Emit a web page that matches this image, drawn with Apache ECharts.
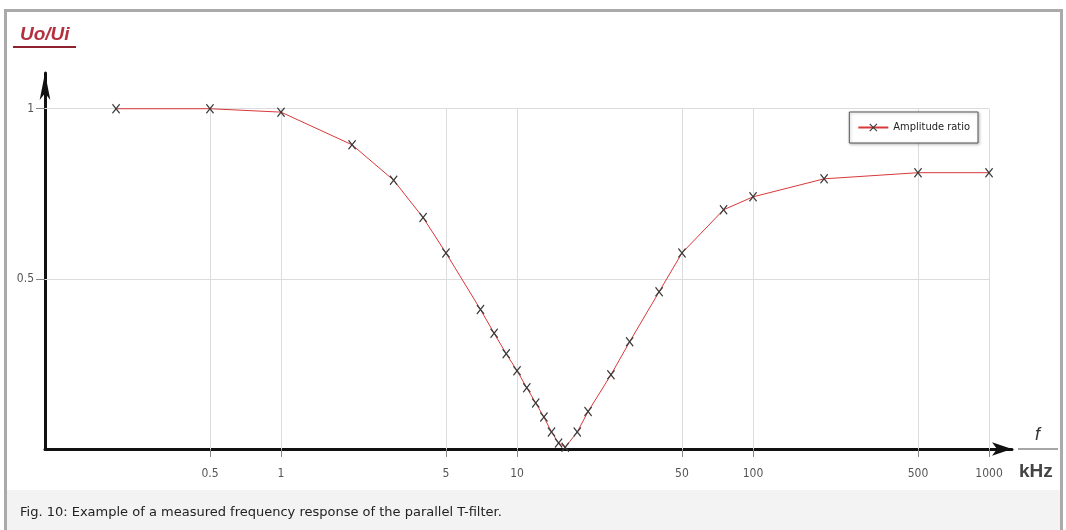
<!DOCTYPE html>
<html>
<head>
<meta charset="utf-8">
<script src="https://cdn.jsdelivr.net/npm/echarts@6/dist/echarts.min.js"></script>
<style>
  html, body { margin: 0; padding: 0; background: #fff; }
  #chartmain { width: 1066px; height: 530px; }
</style>
</head>
<body>
<div id="chartmain"></div>
<script>
// measured points: frequency in kHz, amplitude ratio Uo/Ui
var freq = [0.2, 0.5, 1, 2, 3, 4, 5, 7, 8, 9, 10, 11, 12, 13, 14, 15, 16, 18, 20, 25, 30, 40, 50, 75, 100, 200, 500, 1000];
var ratio = [1.0, 1.0, 0.99, 0.894, 0.79, 0.68, 0.576, 0.41, 0.34, 0.28, 0.23, 0.18, 0.135, 0.094, 0.05, 0.018, 0.005, 0.05, 0.11, 0.218, 0.315, 0.462, 0.576, 0.703, 0.741, 0.794, 0.812, 0.812];

// tick labels
var xTicks = [0.5, 1, 5, 10, 50, 100, 500, 1000];
var yTicks = [0.5, 1];

var seriesName = 'Amplitude ratio';
var narrowFont = "'Liberation Sans Narrow', 'DejaVu Sans Condensed', 'Roboto', sans-serif";

function makePoints() {
    var pts = [];
    for (var i = 0; i < freq.length; i++) {
        pts.push([freq[i], ratio[i]]);
    }
    return pts;
}

// grid lines only inside the 0..1 / 0.1..1000 box
function makeGridLines() {
    var lines = [];
    xTicks.forEach(function (v) {
        lines.push([{ coord: [v, 0] }, { coord: [v, 1] }]);
    });
    yTicks.forEach(function (v) {
        lines.push([{ coord: [0.1, v] }, { coord: [1000, v] }]);
    });
    return lines;
}

var xMark = 'path://M0,1L1,0L5,4L9,0L10,1L6,5L10,9L9,10L5,6L1,10L0,9L4,5Z';

var option = {
    animation: false,
    backgroundColor: '#fff',
    title: {
        text: 'Uo/Ui',
        left: 20,
        top: 25,
        padding: 0,
        textStyle: {
            fontFamily: 'Liberation Sans',
            fontStyle: 'italic',
            fontWeight: 'bold',
            fontSize: 19,
            color: '#b3303e'
        }
    },
    legend: {
        data: [seriesName],
        right: 88,
        top: 112,
        padding: [10, 8, 10, 8],
        itemWidth: 30,
        itemHeight: 10,
        itemGap: 5,
        borderColor: '#555',
        borderWidth: 1,
        backgroundColor: '#fff',
        shadowColor: 'rgba(0,0,0,0.25)',
        shadowBlur: 3,
        shadowOffsetX: 1,
        shadowOffsetY: 1,
        textStyle: { fontFamily: narrowFont, fontSize: 11, color: '#222' }
    },
    grid: {
        left: 45,
        right: 54,
        top: 73,
        bottom: 81,
        containLabel: false
    },
    xAxis: {
        type: 'log',
        logBase: 10,
        min: 0.1,
        max: 1251,
        axisLine: {
            show: true,
            lineStyle: { color: '#111', width: 3 },
            symbol: ['none', 'arrow'],
            symbolSize: [10, 20]
        },
        axisTick: {
            show: true,
            customValues: xTicks,
            length: 8,
            lineStyle: { color: '#888', width: 1 }
        },
        axisLabel: {
            customValues: xTicks,
            margin: 19,
            fontFamily: narrowFont,
            fontSize: 12,
            color: '#555',
            formatter: function (v) { return String(v); }
        },
        splitLine: { show: false },
        minorTick: { show: false },
        minorSplitLine: { show: false }
    },
    yAxis: {
        type: 'value',
        min: 0,
        max: 1.105,
        axisLine: {
            show: true,
            lineStyle: { color: '#111', width: 3 },
            symbol: ['none', 'arrow'],
            symbolSize: [8, 27]
        },
        axisTick: {
            show: true,
            customValues: yTicks,
            length: 9,
            lineStyle: { color: '#888', width: 1 }
        },
        axisLabel: {
            customValues: yTicks,
            margin: 11,
            fontFamily: narrowFont,
            fontSize: 12,
            color: '#555',
            formatter: function (v) { return String(v); }
        },
        splitLine: { show: false }
    },
    series: [{
        name: seriesName,
        type: 'line',
        data: makePoints(),
        symbol: xMark,
        symbolSize: [8, 10],
        showAllSymbol: true,
        itemStyle: { color: '#3a3a3a' },
        lineStyle: { color: '#d9383a', width: 1 },
        z: 3,
        markLine: {
            silent: true,
            symbol: ['none', 'none'],
            label: { show: false },
            lineStyle: { color: '#dcdcdc', type: 'solid', width: 1 },
            data: makeGridLines(),
            z: 1
        }
    }],
    graphic: [
        // caption band
        { type: 'rect', left: 7, top: 490, shape: { width: 1054, height: 40 }, style: { fill: '#f3f3f3' }, z: -10, silent: true },
        { type: 'text', left: 20, top: 506, style: { text: 'Fig. 10: Example of a measured frequency response of the parallel T-filter.', font: '13px "DejaVu Sans"', fill: '#222' } },
        // frame
        { type: 'polyline', shape: { points: [[5.5, 530], [5.5, 10.5], [1061.5, 10.5], [1061.5, 530]] }, style: { stroke: '#aaa', lineWidth: 3, fill: null }, silent: true },
        // underline of the title
        { type: 'line', shape: { x1: 13, y1: 47, x2: 76, y2: 47 }, style: { stroke: '#8e2231', lineWidth: 2 } },
        // axis unit
        { type: 'text', left: 1035, top: 426, style: { text: 'f', font: 'italic 18px "Liberation Sans"', fill: '#333' } },
        { type: 'line', shape: { x1: 1018, y1: 449, x2: 1058, y2: 449 }, style: { stroke: '#888', lineWidth: 1.5 } },
        { type: 'text', left: 1019, top: 462, style: { text: 'kHz', font: 'bold 19px "Liberation Sans"', fill: '#444' } }
    ]
};

var myChart = echarts.init(document.getElementById('chartmain'));
myChart.setOption(option);
</script>
</body>
</html>
